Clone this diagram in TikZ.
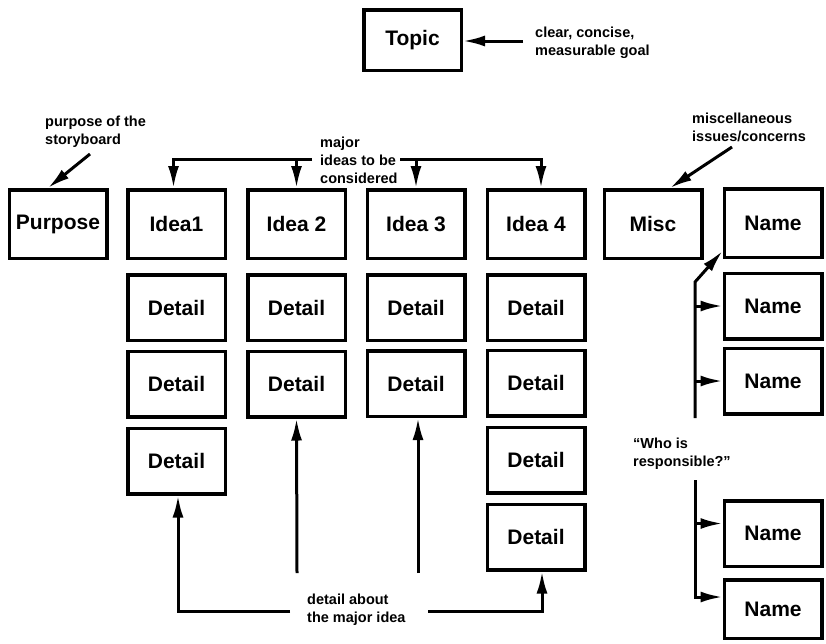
\documentclass[tikz,border=0pt]{standalone}
\usepackage{fontspec}
\setmainfont{Liberation Sans}
\usetikzlibrary{arrows.meta,calc}
\begin{document}
\begin{tikzpicture}[x=1pt,y=-1pt,
  card/.style={draw, line width=3.5pt, minimum width=97.5pt, minimum height=65.5pt,
    font=\fontsize{21}{24}\selectfont\bfseries, inner sep=0pt},
  tallcard/.style={card, minimum height=68.5pt},
  note/.style={font=\fontsize{14.5}{18}\selectfont\bfseries, align=left, anchor=west, inner sep=0pt},
  arr/.style={line width=3pt, -{Latex[length=22pt,width=11pt]}}]
\useasboundingbox (0,0) rectangle (826,643);

% topic
\node[card, minimum height=60.5pt] (topic) at (412.5,40) {Topic};
\node[note] (goal) at (535,43) {clear, concise,\\measurable goal};

% header row
\node[tallcard] (purpose) at (58,224) {Purpose};
\node[tallcard] (i1) at (176.5,224) {Idea1};
\node[tallcard] (i2) at (296.5,224) {Idea 2};
\node[tallcard] (i3) at (416,224) {Idea 3};
\node[tallcard] (i4) at (536,224) {Idea 4};
\node[tallcard] (misc) at (653,224) {Misc};
\node[tallcard] (n1) at (773,223) {Name};

% details under each idea
\node[card] (d11) at (176.5,307.5) {Detail};
\node[card] (d12) at (176.5,384) {Detail};
\node[card] (d13) at (176.5,461) {Detail};
\node[card] (d21) at (296.5,307.5) {Detail};
\node[card] (d22) at (296.5,384) {Detail};
\node[card] (d31) at (416,307.5) {Detail};
\node[card] (d32) at (416,383.5) {Detail};
\node[card] (d41) at (536,307.5) {Detail};
\node[card] (d42) at (536,383) {Detail};
\node[card] (d43) at (536,460) {Detail};
\node[card] (d44) at (536,537) {Detail};

% responsible people
\node[card] (n2) at (773,306) {Name};
\node[card] (n3) at (773,381) {Name};
\node[card] (n4) at (773,533.5) {Name};
\node[card, minimum height=58.5pt] (n5) at (773,609) {Name};

% annotations
\node[note] (purp) at (45,132) {purpose of the\\storyboard};
\node[note] (major) at (320,160) {major\\ideas to be\\considered};
\node[note] (miscn) at (692,127) {miscellaneous\\issues/concerns};
\node[note] (who) at (633,454) {“Who is\\responsible?”};
\node[note] (about) at (307,610) {detail about\\the major idea};

% pointers from annotations
\coordinate (goalL) at (523,41);
\draw[arr] (goalL) -- (topic.east |- goalL);
\coordinate (purpT) at (90,154);
\draw[arr] (purpT) -- ([xshift=-10pt]purpose.north);
\coordinate (miscT) at (732,147);
\draw[arr] (miscT) -- ([xshift=17pt]misc.north);

% bracket over the ideas
\coordinate (majL) at (312,159);
\coordinate (majR) at (400,159);
\draw[arr] (majL) -| ([xshift=-3pt]i1.north);
\draw[arr] (majL -| i2.north) -- (i2.north);
\draw[arr] (majR) -| ([xshift=5pt]i4.north);
\draw[arr] (majR -| i3.north) -- (i3.north);

% who is responsible: first group
\coordinate (sp1b) at (695,418);
\coordinate (sp1t) at (695,282);
\draw[arr] (sp1b) -- (sp1t) -- ([yshift=8pt]n1.south west);
\draw[arr] (sp1t |- n2.west) -- (n2.west);
\draw[arr] (sp1t |- n3.west) -- (n3.west);

% who is responsible: second group
\coordinate (sp2t) at (695,480);
\coordinate (n4a) at ([yshift=10pt]n4.west);
\coordinate (n5a) at ([yshift=12pt]n5.west);
\draw[arr] (sp2t) |- (n5a);
\draw[arr] (sp2t |- n4a) -- (n4a);

% detail pointers from below
\coordinate (aboutL) at (290,611);
\coordinate (aboutR) at (428,611);
\draw[arr] (aboutL) -| ([xshift=1.5pt]d13.south);
\draw[arr] (aboutR) -| ([xshift=6pt]d44.south);
\coordinate (midA) at (297,573);
\draw[arr] (midA) -- (d22.south);
\coordinate (midB) at (418,573);
\draw[arr] (midB) -- ([xshift=2pt]d32.south);
\end{tikzpicture}
\end{document}
